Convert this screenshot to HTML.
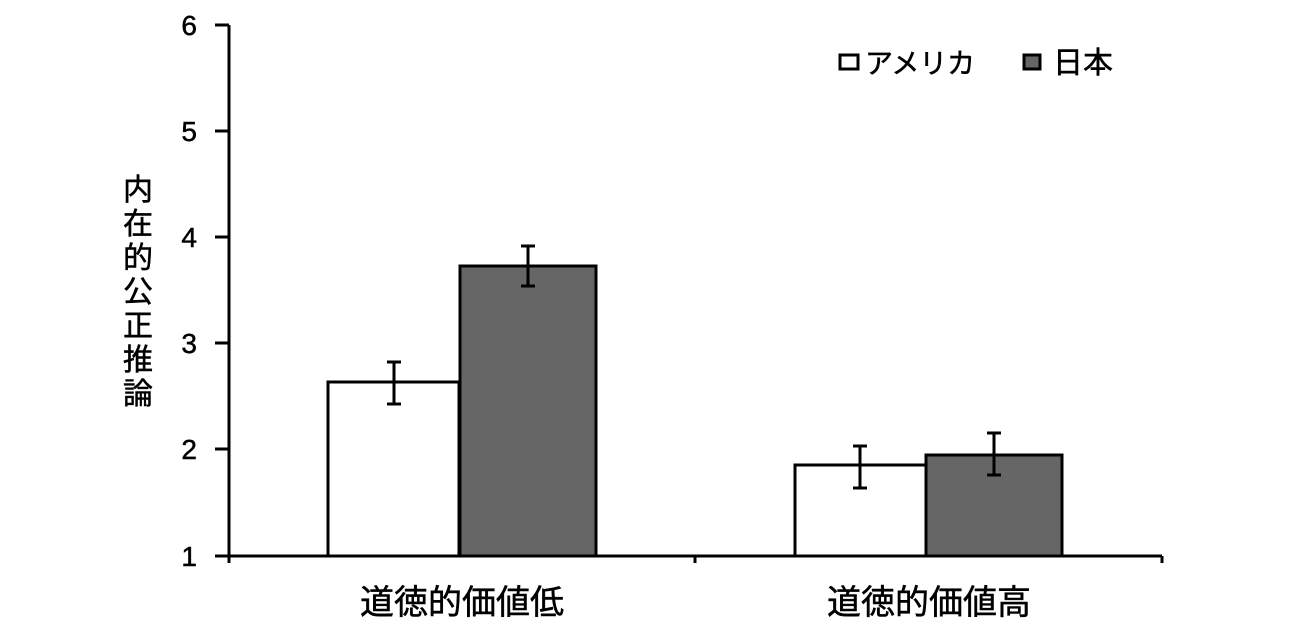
<!DOCTYPE html>
<html><head><meta charset="utf-8"><style>
body{margin:0;background:#fff}
text{font-family:"Liberation Sans","Noto Sans CJK JP",sans-serif;fill:#000;stroke:#000;stroke-width:0.5}
</style></head><body>
<svg width="1300" height="628" xmlns="http://www.w3.org/2000/svg">
<g stroke="#000" stroke-width="3" fill="none">
<line x1="229" y1="25" x2="229" y2="563"/>
<line x1="229" y1="556" x2="1162" y2="556"/>
<line x1="215" y1="25" x2="229" y2="25"/>
<line x1="215" y1="131" x2="229" y2="131"/>
<line x1="215" y1="237" x2="229" y2="237"/>
<line x1="215" y1="343" x2="229" y2="343"/>
<line x1="215" y1="449" x2="229" y2="449"/>
<line x1="215" y1="556" x2="229" y2="556"/>
<line x1="695" y1="556" x2="695" y2="563"/>
<line x1="1162" y1="556" x2="1162" y2="563"/>
</g>
<g stroke="#000" stroke-width="3">
<rect x="328" y="382" width="131" height="174" fill="#fff"/>
<rect x="460" y="266" width="136" height="290" fill="#666"/>
<rect x="795" y="465" width="131" height="91" fill="#fff"/>
<rect x="926" y="455" width="136" height="101" fill="#666"/>
<path d="M394 362V404M387 362H401M387 404H401M528 246V286M521 246H535M521 286H535M860 446V488M853 446H867M853 488H867M994 433V475M987 433H1001M987 475H1001" fill="none"/>
<rect x="840" y="55" width="18" height="14" fill="#fff" stroke-width="3"/>
<rect x="1024" y="55" width="16" height="14" fill="#666" stroke-width="3"/>
</g>
<g font-size="28" text-anchor="end">
<text x="197" y="35">6</text><text x="197" y="141">5</text><text x="197" y="247">4</text>
<text x="197" y="353">3</text><text x="197" y="459">2</text><text x="197" y="566">1</text>
</g>
<text x="865" y="73" font-size="28" textLength="110">アメリカ</text>
<text x="1053" y="73" font-size="30">日本</text>
<g font-size="30" text-anchor="middle">
<text x="138" y="200">内</text><text x="138" y="234">在</text><text x="138" y="268">的</text>
<text x="138" y="302">公</text><text x="138" y="336">正</text><text x="138" y="370">推</text><text x="138" y="404">論</text>
</g>
<g font-size="34" text-anchor="middle">
<text x="462" y="614">道徳的価値低</text>
<text x="929" y="614">道徳的価値高</text>
</g>
</svg>
</body></html>
